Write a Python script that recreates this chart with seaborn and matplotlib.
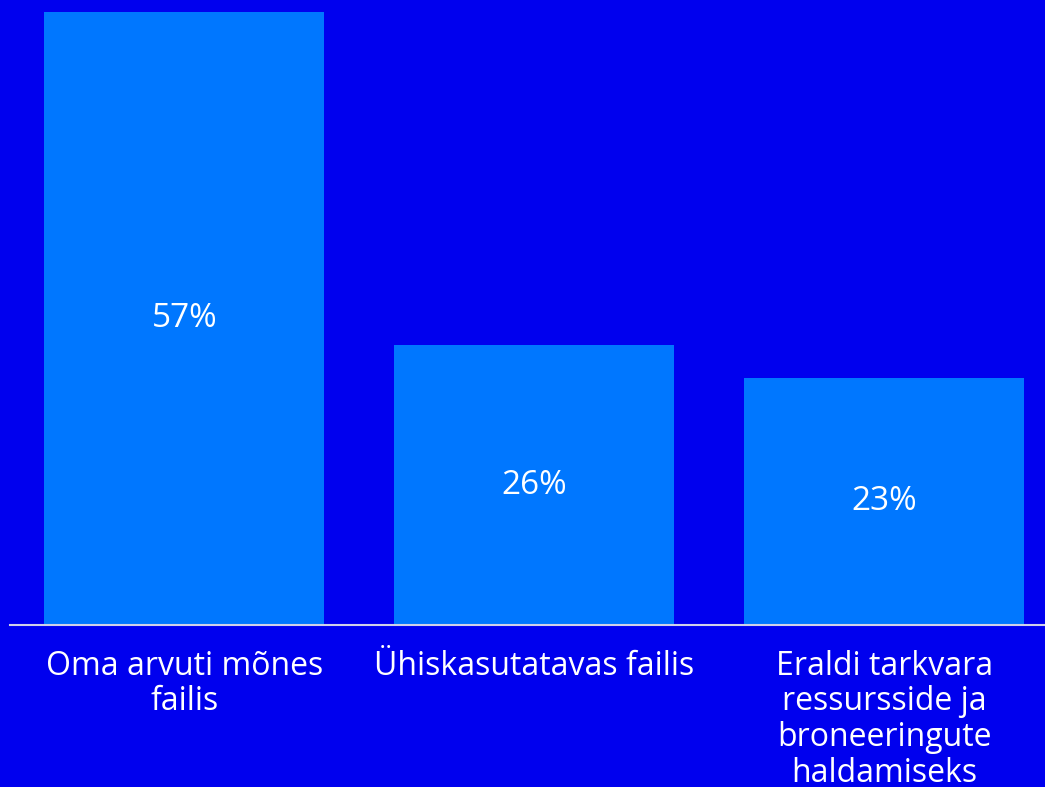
import pandas as pd
import matplotlib.pyplot as plt
import seaborn as sns

## data
categories = ['Oma arvuti mõnes\nfailis', 'Ühiskasutatavas failis',
              'Eraldi tarkvara\nressursside ja\nbroneeringute\nhaldamiseks']
values = [57, 26, 23]
value_labels = ['57%', '26%', '23%']

df = pd.DataFrame({'category': categories, 'value': values})

bg = '#0000EE'
bar_color = '#0077FF'

sns.set_theme(style='white')
plt.rcParams['font.family'] = ['Open Sans', 'DejaVu Sans']

fig = plt.figure(figsize=(10.45, 7.87), dpi=100, facecolor=bg)
ax = fig.add_axes([9.5 / 1045, 162 / 787, 1050 / 1045, 613 / 787])
ax.set_facecolor(bg)

sns.barplot(data=df, x='category', y='value', color=bar_color, width=0.8,
            saturation=1, linewidth=0, ax=ax)

# percentage labels in the middle of each bar
for i, (v, lab) in enumerate(zip(values, value_labels)):
    ax.text(i, v / 2, lab, ha='center', va='center', color='white',
            fontsize=24)

ax.set_xlim(-0.5, 2.5)
ax.set_ylim(0, 57)
ax.set_xlabel('')
ax.set_ylabel('')
ax.set_yticks([])
ax.tick_params(axis='x', length=0, pad=18, colors='white', labelsize=23)
for t in ax.get_xticklabels():
    t.set_linespacing(1.1)

for s in ['top', 'right', 'left']:
    ax.spines[s].set_visible(False)
ax.spines['bottom'].set_color('#D0D0E8')
ax.spines['bottom'].set_linewidth(1.5)

fig.savefig('out.png', dpi=100, facecolor=bg)
